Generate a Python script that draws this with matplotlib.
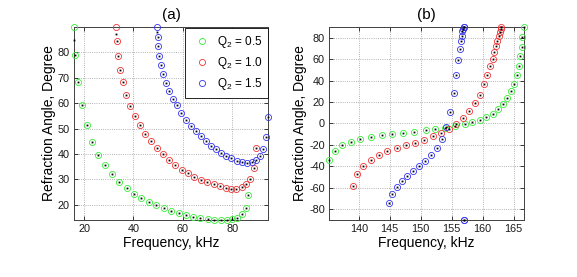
import matplotlib
matplotlib.use('Agg')
import matplotlib.pyplot as plt

plt.rcParams['font.family'] = ['Liberation Sans', 'DejaVu Sans']
plt.rcParams['mathtext.default'] = 'regular'
plt.rcParams['axes.unicode_minus'] = False

# ---------------- panel (a) data ----------------
a_freq_q05 = [16.1, 16.5, 17.6, 19.1, 21.1, 23.2, 25.8, 28.5, 31.3, 34.3, 37.2, 40.2, 43.1, 46.2, 49.3,
              52.3, 55.4, 58.3, 61.3, 64.2, 67.1, 70.2, 72.7, 75.4, 78.1, 80.1, 82.1, 83.9, 85.5, 86.4]
a_ang_q05 = [90, 78.8, 68.2, 59.1, 51.3, 44.9, 39.7, 35.6, 32.0, 29.1, 26.5, 24.3, 22.5, 21.1, 19.8,
             18.6, 17.5, 16.6, 15.9, 15.1, 14.7, 14.2, 14.0, 14.0, 14.0, 14.2, 14.9, 16.2, 18.6, 23.8]

a_freq_q10 = [33.0, 33.3, 33.9, 34.7, 35.6, 37.1, 38.7, 40.5, 42.5, 44.7, 47.2, 49.4, 51.9, 54.3, 56.9,
              59.5, 62.1, 64.6, 67.3, 69.9, 72.6, 75.0, 77.4, 79.7, 81.7, 83.9, 85.5, 87.2, 88.7, 89.5]
a_ang_q10 = [90, 84.4, 78.7, 73.2, 68.2, 63.4, 59.0, 54.9, 51.3, 48.0, 45.0, 42.5, 40.0, 37.6, 35.7,
             33.7, 32.4, 31.1, 29.8, 28.8, 28.1, 27.3, 26.6, 26.2, 26.2, 26.9, 28.1, 30.3, 34.6, 42.3]

a_freq_q15 = [49.6, 49.8, 50.0, 50.5, 51.2, 52.1, 53.2, 54.5, 56.0, 57.6, 59.4, 61.3, 63.2, 65.3, 67.3,
              69.4, 71.5, 73.4, 75.5, 77.5, 79.7, 81.9, 84.0, 86.1, 87.9, 89.8, 91.1, 92.6, 93.8, 94.5]
a_ang_q15 = [90, 86.1, 82.5, 78.5, 74.9, 71.4, 68.0, 64.8, 61.8, 59.1, 56.2, 53.5, 51.2, 49.2, 47.1,
             45.3, 43.3, 41.9, 40.5, 39.2, 38.3, 37.4, 36.9, 36.6, 36.9, 37.6, 39.3, 42.0, 46.6, 54.7]

# black dot series: same as circles except the first point of each curve
a_dot_first = [84.7, 87.3, 88.2]

# ---------------- panel (b) data ----------------
b_freq_q05 = [135.2, 136.1, 137.3, 138.7, 140.2, 141.9, 143.7, 145.4, 147.2, 149.0, 150.8, 152.3, 153.9,
              155.6, 157.1, 158.3, 159.5, 160.6, 161.6, 162.5, 163.3, 164.0, 164.5, 165.0, 165.5, 165.9,
              166.1, 166.3, 166.4, 166.6]
b_ang_q05 = [-34.1, -25.2, -19.9, -16.8, -14.6, -12.4, -10.8, -9.9, -8.7, -7.7, -6.5, -5.2, -3.8,
             -2.2, -0.6, 1.3, 3.5, 6.5, 9.3, 13.4, 18.1, 23.7, 29.9, 37.0, 44.8, 53.8,
             62.9, 71.3, 80.6, 90.0]

b_freq_q10 = [139.0, 139.7, 140.7, 141.9, 143.2, 144.6, 146.1, 147.6, 149.1, 150.5, 152.0, 153.3, 154.6,
              155.7, 156.9, 157.8, 158.7, 159.5, 160.2, 160.7, 161.2, 161.6, 161.9, 162.2, 162.4, 162.6,
              162.8, 162.9, 163.0]
b_ang_q10 = [-58.0, -47.0, -39.6, -34.1, -29.5, -26.1, -22.9, -20.5, -18.0, -15.2, -12.0, -8.6, -5.1,
             -0.2, 5.0, 11.2, 18.9, 27.0, 36.5, 44.9, 53.3, 60.5, 66.6, 72.0, 77.0, 81.2,
             85.0, 88.3, 90.0]

b_freq_q15 = [144.9, 145.4, 146.1, 147.0, 147.8, 148.7, 149.7, 150.7, 151.6, 152.6, 153.4, 154.1, 154.7,
              155.3, 155.7, 156.1, 156.3, 156.5, 156.6, 156.75, 156.85, 156.95, 157.0, 157.0, 157.0]
b_ang_q15 = [-73.7, -66.0, -59.5, -53.7, -48.8, -44.1, -39.5, -34.8, -29.3, -23.3, -14.9, -3.7, 10.4,
             28.0, 45.0, 59.5, 69.5, 76.7, 82.0, 85.8, 88.5, 89.8, 90.0, -90.0, -90.0]

labels = ['Q$_2$ = 0.5', 'Q$_2$ = 1.0', 'Q$_2$ = 1.5']
colors = ['#33ee33', '#f03333', '#3333f0']

a_xticks = [20, 40, 60, 80]
a_yticks = [20, 30, 40, 50, 60, 70, 80]
b_xticks = [140, 145, 150, 155, 160, 165]
b_yticks = [-80, -60, -40, -20, 0, 20, 40, 60, 80]

fig = plt.figure(figsize=(5.77, 2.77), dpi=100)
ax1 = fig.add_axes([0.1282, 0.2058, 0.3362, 0.6968])
ax2 = fig.add_axes([0.5702, 0.2058, 0.3371, 0.6968])

circ_kw = dict(linestyle='none', marker='o', markerfacecolor='none', markersize=4.4,
               markeredgewidth=0.6, clip_on=False, zorder=3)
dot_kw = dict(linestyle='none', marker='s', color='k', markersize=1.3, markeredgewidth=0,
              clip_on=False, zorder=4)

a_sets = [(a_freq_q05, a_ang_q05), (a_freq_q10, a_ang_q10), (a_freq_q15, a_ang_q15)]
handles = []
for (f, a), c, lab, d0 in zip(a_sets, colors, labels, a_dot_first):
    h, = ax1.plot(f, a, color=c, markeredgecolor=c, label=lab, **circ_kw)
    handles.append(h)
    ax1.plot(f, [d0] + list(a[1:]), **dot_kw)

b_sets = [(b_freq_q05, b_ang_q05), (b_freq_q10, b_ang_q10), (b_freq_q15, b_ang_q15)]
for (f, a), c in zip(b_sets, colors):
    ax2.plot(f, a, color=c, markeredgecolor=c, **circ_kw)
    ax2.plot(f, a, **dot_kw)

for ax in (ax1, ax2):
    ax.grid(True, linestyle=':', color='0.6', linewidth=0.6)
    ax.set_axisbelow(True)
    ax.tick_params(direction='in', top=True, right=True, length=3, width=0.6,
                   labelsize=7.8, pad=3, colors='0.1')
    for s in ax.spines.values():
        s.set_color('0.25')
        s.set_linewidth(0.7)
    ax.set_xlabel('Frequency, kHz', fontsize=10, labelpad=1.5)
    ax.set_ylabel('Refraction Angle, Degree', fontsize=10, labelpad=1.5)

ax1.set_xlim(15.9, 94.5)
ax1.set_ylim(14.0, 90.0)
ax1.set_xticks(a_xticks)
ax1.set_yticks(a_yticks)
ax1.set_title('(a)', fontsize=11, pad=5.5)

ax2.set_xlim(135.2, 166.6)
ax2.set_ylim(-90, 90)
ax2.set_xticks(b_xticks)
ax2.set_yticks(b_yticks)
ax2.set_title('(b)', fontsize=11, pad=5.5)

leg = ax1.legend(handles=handles, loc='upper right', bbox_to_anchor=(1.0, 0.995),
                 fontsize=8.5, frameon=True, fancybox=False, framealpha=1,
                 borderaxespad=0, borderpad=0.5, handlelength=2.0, handletextpad=0.2,
                 labelspacing=0.45, numpoints=1)
leg.get_frame().set_edgecolor('k')
leg.get_frame().set_linewidth(0.6)

fig.savefig('out.png', dpi=100)
